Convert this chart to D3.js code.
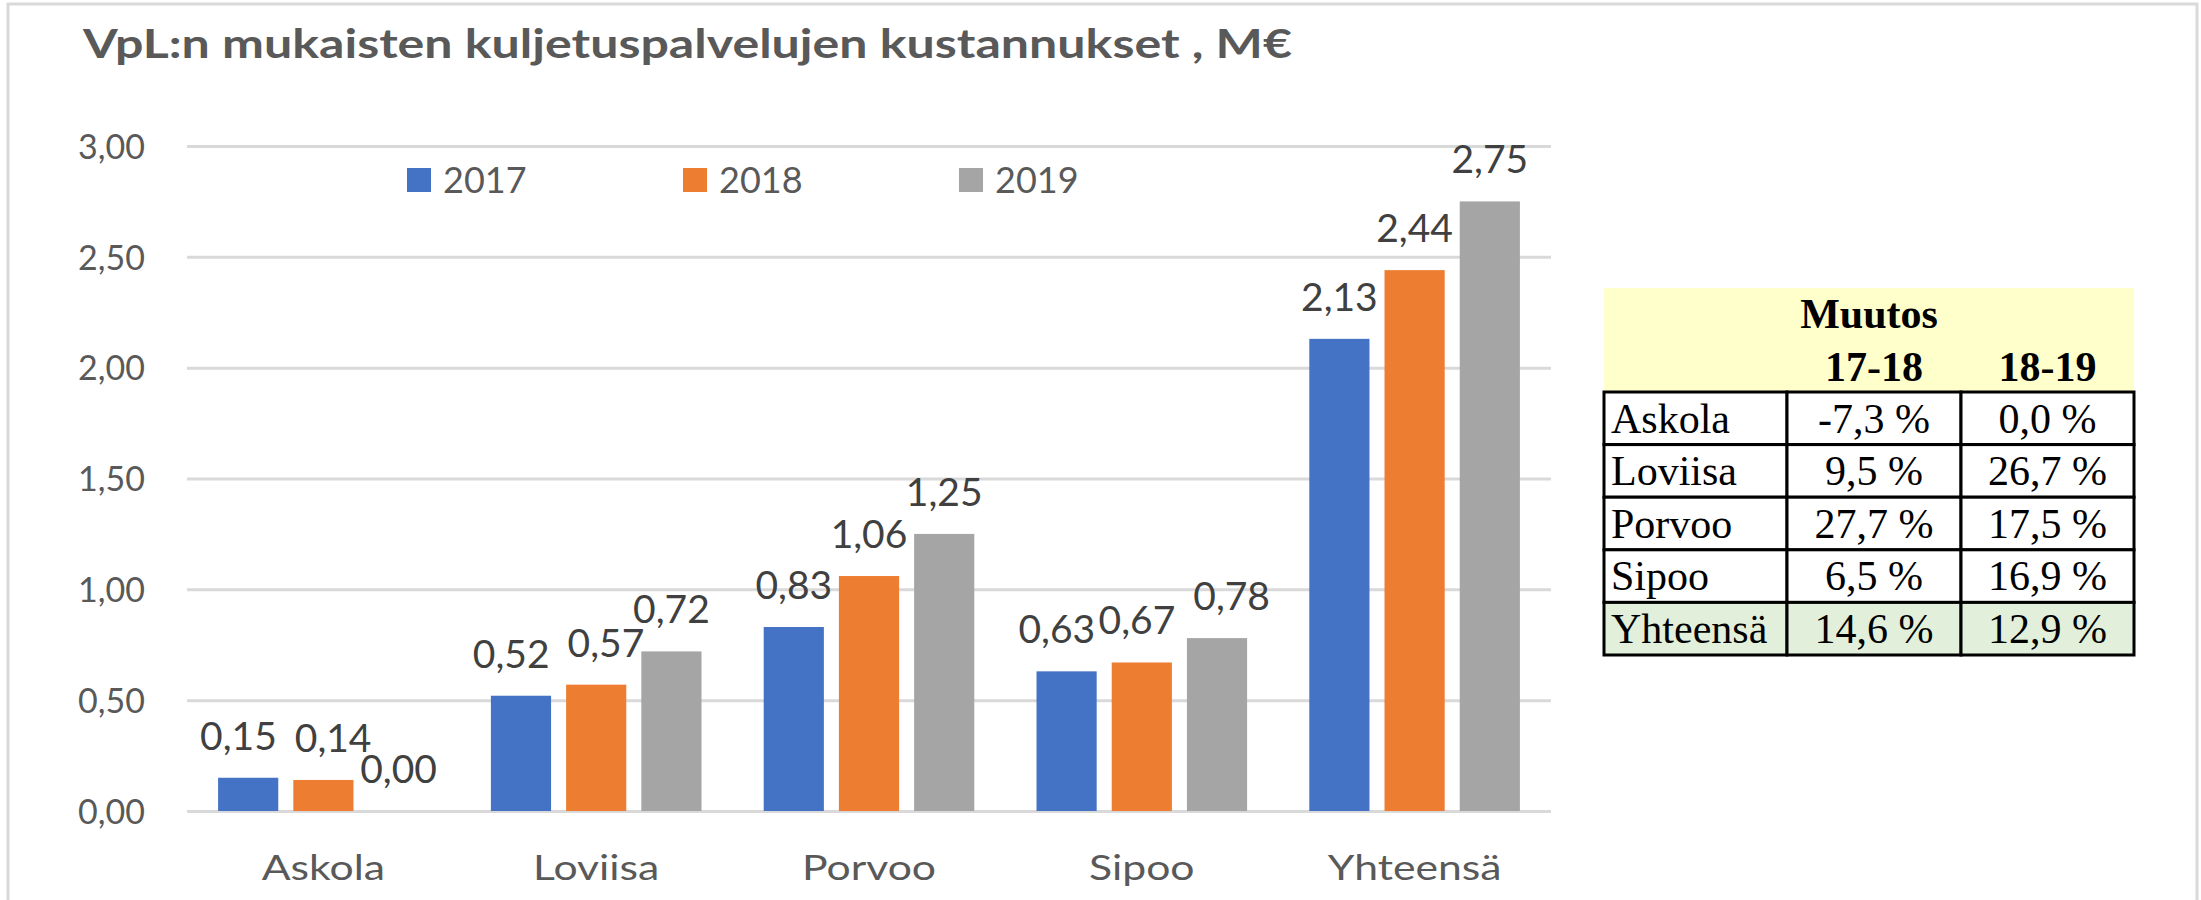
<!DOCTYPE html>
<html>
<head>
<meta charset="utf-8">
<script src="https://cdn.jsdelivr.net/npm/d3@7"></script>
<style>
  body { margin: 0; background: #fff; }
  .axis text { font-family: Lato, "Open Sans", sans-serif; fill: #595959; }
</style>
</head>
<body>
<div id="chart"></div>
<script>
// data
var categories = ["Askola", "Loviisa", "Porvoo", "Sipoo", "Yhteensä"];
var years = ["2017", "2018", "2019"];
var values2017 = [0.15, 0.52, 0.83, 0.63, 2.13];
var values2018 = [0.14, 0.57, 1.06, 0.67, 2.44];
var values2019 = [0.00, 0.72, 1.25, 0.78, 2.75];
var yTicks = [0, 0.5, 1, 1.5, 2, 2.5, 3];

var tableTitle = "Muutos";
var tableCols = ["17-18", "18-19"];
var change1718 = ["-7,3 %", "9,5 %", "27,7 %", "6,5 %", "14,6 %"];
var change1819 = ["0,0 %", "26,7 %", "17,5 %", "16,9 %", "12,9 %"];

var title = "VpL:n mukaisten kuljetuspalvelujen kustannukset , M€";

var colors = ["#4472C4", "#ED7D31", "#A5A5A5"];
var series = [values2017, values2018, values2019];

var W = 2201, H = 900;
var plot = { left: 187, right: 1551, top: 146, bottom: 811 };

var fi = d3.formatLocale({ decimal: ",", thousands: " ", grouping: [3], currency: ["", "€"] });
var fmt = fi.format(".2f");

var svg = d3.select("#chart").append("svg")
        .attr("width", W)
        .attr("height", H);

// chart frame
svg.append("rect")
        .attr("x", 8).attr("y", 4)
        .attr("width", 2189).attr("height", 920)
        .attr("fill", "#fff")
        .attr("stroke", "#d9d9d9")
        .attr("stroke-width", 3);

// the original font is narrow and stretched, so fit the title to its width
svg.append("text")
        .attr("x", 83)
        .attr("y", 58)
        .attr("textLength", 1209)
        .attr("lengthAdjust", "spacingAndGlyphs")
        .style("font-family", "Lato, 'Open Sans', sans-serif")
        .style("font-weight", "bold")
        .style("font-size", "40px")
        .attr("fill", "#595959")
        .text(title);

var y = d3.scaleLinear()
        .domain([0, 3])
        .range([plot.bottom, plot.top]);

var x0 = d3.scaleBand()
        .domain(categories)
        .range([plot.left, plot.right]);

var x1 = d3.scaleBand()
        .domain(years)
        .range([x0.bandwidth() * 0.114, x0.bandwidth() * 0.886])
        .paddingInner(0.2);

var yAxis = d3.axisLeft(y)
        .tickValues(yTicks)
        .tickFormat(fmt)
        .tickSize(-(plot.right - plot.left))
        .tickPadding(42);

var gy = svg.append("g")
        .attr("class", "axis")
        .attr("transform", "translate(" + plot.left + ",0)")
        .call(yAxis);
gy.select(".domain").remove();
gy.selectAll("line").attr("stroke", "#d9d9d9").attr("stroke-width", 3);
gy.selectAll("text").style("font-size", "34px").attr("dy", "0.36em");

var xAxis = d3.axisBottom(x0).tickSize(0);
var gx = svg.append("g")
        .attr("class", "axis")
        .attr("transform", "translate(0," + plot.bottom + ")")
        .call(xAxis);
gx.select(".domain").remove();
gx.selectAll("text")
        .style("font-size", "35px")
        .attr("y", 0).attr("dy", 0)
        .attr("transform", "translate(0,69) scale(1.22,1)");

// bars
var groups = svg.selectAll(".grp")
        .data(categories)
        .enter().append("g")
        .attr("class", "grp")
        .attr("transform", function (d) { return "translate(" + x0(d) + ",0)"; });

groups.selectAll("rect")
        .data(function (d, i) {
                return years.map(function (yr, j) { return { year: yr, value: series[j][i], k: j }; });
        })
        .enter().append("rect")
        .attr("x", function (d) { return x1(d.year); })
        .attr("width", x1.bandwidth())
        .attr("y", function (d) { return y(d.value); })
        .attr("height", function (d) { return y(0) - y(d.value); })
        .attr("fill", function (d) { return colors[d.k]; });

var labelSize = 39;
groups.selectAll(".lbl")
        .data(function (d, i) {
                return years.map(function (yr, j) { return { year: yr, value: series[j][i] }; });
        })
        .enter().append("text")
        .attr("class", "lbl")
        .attr("x", function (d) { return x1(d.year) + x1.bandwidth() / 2; })
        .attr("y", function (d) { return y(d.value) - 28; })
        .attr("text-anchor", "middle")
        .style("font-family", "Lato, 'Open Sans', sans-serif")
        .style("font-size", labelSize + "px")
        .attr("fill", "#404040")
        .text(function (d) { return fmt(d.value); });

// push neighbouring labels apart when they collide, like Excel does
groups.each(function () {
        var lbls = d3.select(this).selectAll(".lbl").nodes();
        for (var i = 0; i < lbls.length - 1; i++) {
                var a = lbls[i], b = lbls[i + 1];
                var ay = +a.getAttribute("y"), by = +b.getAttribute("y");
                if (Math.abs(ay - by) > labelSize * 0.72) continue;
                var aw = a.getComputedTextLength(), bw = b.getComputedTextLength();
                var ax = +a.getAttribute("x"), bx = +b.getAttribute("x");
                var gap = (bx - bw / 2) - (ax + aw / 2);
                var need = 18 - gap;
                if (need > 0) {
                        a.setAttribute("x", ax - need / 2);
                        b.setAttribute("x", bx + need / 2);
                }
        }
});

// legend
var legend = svg.selectAll(".legend")
        .data(years)
        .enter().append("g")
        .attr("class", "legend")
        .attr("transform", function (d, i) { return "translate(" + (407 + i * 276) + ",168)"; });

legend.append("rect")
        .attr("width", 24).attr("height", 24)
        .attr("fill", function (d, i) { return colors[i]; });

legend.append("text")
        .attr("x", 36)
        .attr("y", 25)
        .style("font-family", "Lato, 'Open Sans', sans-serif")
        .style("font-size", "36px")
        .attr("fill", "#595959")
        .text(function (d) { return d; });

// change table
var cols = [1604, 1787, 1961, 2134];
var rowY = d3.scaleBand()
        .domain(categories)
        .range([392, 655]);

var tbl = svg.append("g").attr("class", "table")
        .style("font-family", "'Liberation Serif', 'Times New Roman', serif")
        .style("font-size", "42px");

tbl.append("rect")
        .attr("x", cols[0]).attr("y", 288)
        .attr("width", cols[3] - cols[0]).attr("height", 392 - 288)
        .attr("fill", "#FFFFCC");

tbl.append("text")
        .attr("x", (cols[0] + cols[3]) / 2).attr("y", 328)
        .attr("text-anchor", "middle")
        .style("font-weight", "bold")
        .text(tableTitle);

tbl.selectAll(".colhead")
        .data(tableCols)
        .enter().append("text")
        .attr("class", "colhead")
        .attr("x", function (d, i) { return (cols[i + 1] + cols[i + 2]) / 2; })
        .attr("y", 381)
        .attr("text-anchor", "middle")
        .style("font-weight", "bold")
        .text(function (d) { return d; });

var rows = tbl.selectAll(".row")
        .data(categories)
        .enter().append("g")
        .attr("class", "row")
        .attr("transform", function (d) { return "translate(0," + rowY(d) + ")"; });

rows.selectAll("rect")
        .data(function (d, i) { return [0, 1, 2].map(function (c) { return { c: c, last: i === categories.length - 1 }; }); })
        .enter().append("rect")
        .attr("x", function (d) { return cols[d.c]; })
        .attr("width", function (d) { return cols[d.c + 1] - cols[d.c]; })
        .attr("height", rowY.bandwidth())
        .attr("fill", function (d) { return d.last ? "#E2EFDA" : "#fff"; })
        .attr("stroke", "#000")
        .attr("stroke-width", 3);

rows.append("text")
        .attr("x", cols[0] + 7)
        .attr("y", rowY.bandwidth() - 12)
        .text(function (d) { return d; });

rows.append("text")
        .attr("x", (cols[1] + cols[2]) / 2)
        .attr("y", rowY.bandwidth() - 12)
        .attr("text-anchor", "middle")
        .text(function (d, i) { return change1718[i]; });

rows.append("text")
        .attr("x", (cols[2] + cols[3]) / 2)
        .attr("y", rowY.bandwidth() - 12)
        .attr("text-anchor", "middle")
        .text(function (d, i) { return change1819[i]; });
</script>
</body>
</html>
